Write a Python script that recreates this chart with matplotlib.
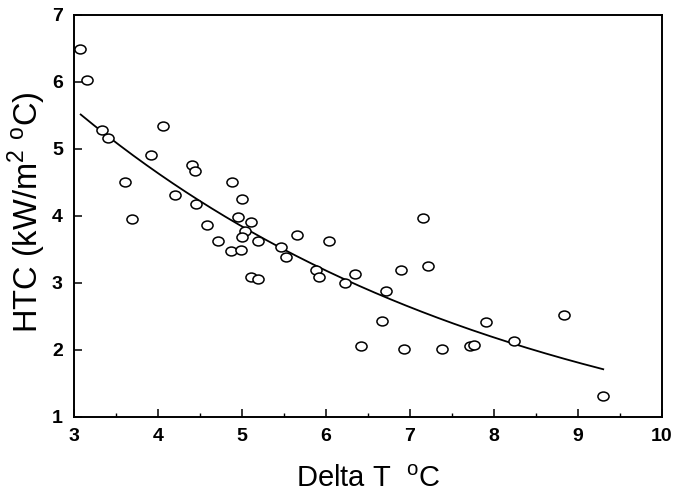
import numpy as np
import matplotlib
matplotlib.use('Agg')
import matplotlib.pyplot as plt
from matplotlib.path import Path
from matplotlib.transforms import Affine2D

plt.rcParams['font.family'] = ['Liberation Sans', 'DejaVu Sans']
plt.rcParams['mathtext.fontset'] = 'custom'
plt.rcParams['mathtext.rm'] = 'Liberation Sans'

# measured points, delta T (C) vs HTC (kW/m2 C)
delta_t = [3.07, 3.16, 3.33, 3.41, 3.61, 3.69, 3.92, 4.06, 4.20, 4.40,
           4.44, 4.45, 4.58, 4.72, 4.88, 5.00, 4.95, 5.11, 5.03, 5.00,
           5.19, 5.46, 5.66, 4.87, 4.99, 5.11, 5.19, 5.52, 6.04, 5.88,
           5.92, 6.23, 6.35, 6.42, 6.67, 6.71, 6.89, 6.93, 7.15, 7.21,
           7.38, 7.71, 7.76, 7.90, 8.24, 8.83, 9.30]
htc = [6.49, 6.03, 5.29, 5.16, 4.51, 3.95, 4.91, 5.34, 4.32, 4.76,
       4.67, 4.18, 3.86, 3.62, 4.51, 4.25, 3.98, 3.91, 3.78, 3.68,
       3.62, 3.54, 3.71, 3.48, 3.49, 3.09, 3.06, 3.39, 3.62, 3.19,
       3.09, 3.00, 3.14, 2.06, 2.43, 2.88, 3.19, 2.02, 3.97, 3.25,
       2.02, 2.06, 2.08, 2.42, 2.13, 2.52, 1.32]

# exponential fit HTC = a * exp(-b * dT)
fit_a = 9.84
fit_b = 0.188
fit_range = (3.08, 9.30)

fig = plt.figure(figsize=(6.82, 4.95), dpi=100)
ax = fig.add_axes([0.1085, 0.1576, 0.8622, 0.8121])

ellipse = Path.unit_circle().transformed(Affine2D().scale(1.25, 1.0))
ax.plot(delta_t, htc, linestyle='none', marker=ellipse, markersize=8,
        markerfacecolor='white', markeredgecolor='black', markeredgewidth=1.1,
        zorder=3)

xf = np.linspace(fit_range[0], fit_range[1], 200)
ax.plot(xf, fit_a * np.exp(-fit_b * xf), color='black', linewidth=1.3, zorder=2)

ax.set_xlim(3, 10)
ax.set_ylim(1, 7)
ax.set_xticks(np.arange(3, 11, 1))
ax.set_xticks(np.arange(3.5, 10, 1), minor=True)
ax.set_yticks(np.arange(1, 8, 1))

for s in ax.spines.values():
    s.set_linewidth(1.4)

ax.tick_params(axis='both', which='major', direction='in', length=6, width=1.1,
               labelsize=14, pad=8)
ax.tick_params(axis='x', which='minor', direction='in', length=3, width=1.0)
for lab in ax.get_xticklabels() + ax.get_yticklabels():
    lab.set_fontweight('bold')

ax.set_xlabel(r'Delta T  $^{\mathrm{o}}$C', fontsize=21, labelpad=14)
ax.set_ylabel(r'HTC (kW/m$^{2}$ $^{\mathrm{o}}$C)', fontsize=23.5)
ax.yaxis.set_label_coords(-0.044, 0.51)

fig.savefig('out.png', dpi=100)
